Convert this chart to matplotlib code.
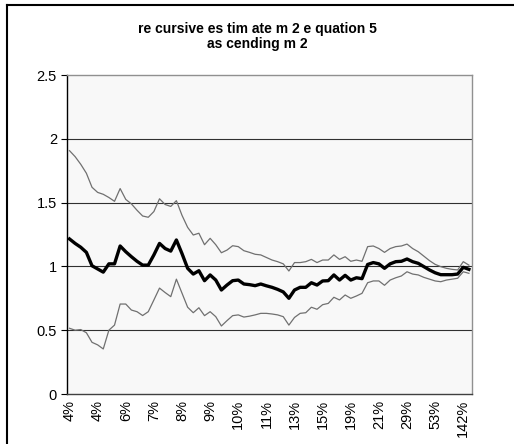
import numpy as np
import matplotlib
matplotlib.use("Agg")
import matplotlib.pyplot as plt
from matplotlib.lines import Line2D

plt.rcParams['font.family'] = ['Liberation Sans', 'DejaVu Sans']

# recursive estimate of m2, sorted by ascending m2 (72 windows)
estimate = [1.215, 1.18, 1.15, 1.11, 1.005, 0.98, 0.955, 1.02, 1.02, 1.16,
            1.115, 1.076, 1.04, 1.01, 1.01, 1.09, 1.18, 1.14, 1.12, 1.207,
            1.10, 0.985, 0.94, 0.966, 0.888, 0.933, 0.893, 0.815, 0.854, 0.888,
            0.893, 0.862, 0.857, 0.849, 0.862, 0.848, 0.836, 0.82, 0.80, 0.75,
            0.815, 0.836, 0.836, 0.872, 0.854, 0.886, 0.888, 0.933, 0.893, 0.93,
            0.893, 0.911, 0.904, 1.015, 1.03, 1.02, 0.985, 1.02, 1.037, 1.04,
            1.058, 1.037, 1.024, 0.998, 0.972, 0.95, 0.935, 0.935, 0.935, 0.94,
            0.993, 0.977]

upper = [1.907, 1.86, 1.80, 1.73, 1.62, 1.58, 1.565, 1.54, 1.51, 1.61,
         1.525, 1.49, 1.44, 1.395, 1.385, 1.43, 1.53, 1.485, 1.47, 1.515,
         1.40, 1.306, 1.246, 1.26, 1.17, 1.22, 1.17, 1.107, 1.128, 1.162,
         1.155, 1.123, 1.11, 1.095, 1.09, 1.07, 1.05, 1.037, 1.02, 0.964,
         1.03, 1.03, 1.037, 1.055, 1.03, 1.05, 1.05, 1.09, 1.055, 1.076,
         1.04, 1.05, 1.04, 1.155, 1.16, 1.14, 1.11, 1.14, 1.155, 1.16,
         1.175, 1.14, 1.115, 1.08, 1.045, 1.016, 0.998, 0.985, 0.977, 0.972,
         1.037, 1.01]

lower = [0.515, 0.50, 0.505, 0.48, 0.405, 0.385, 0.353, 0.50, 0.54, 0.705,
         0.705, 0.658, 0.645, 0.615, 0.645, 0.737, 0.83, 0.795, 0.763, 0.90,
         0.79, 0.68, 0.637, 0.676, 0.614, 0.645, 0.606, 0.533, 0.575, 0.614,
         0.62, 0.603, 0.61, 0.62, 0.632, 0.632, 0.627, 0.62, 0.606, 0.54,
         0.60, 0.632, 0.637, 0.68, 0.664, 0.70, 0.71, 0.758, 0.737, 0.776,
         0.75, 0.768, 0.789, 0.872, 0.886, 0.886, 0.852, 0.893, 0.911, 0.925,
         0.958, 0.94, 0.933, 0.914, 0.90, 0.886, 0.88, 0.893, 0.90, 0.907,
         0.958, 0.946]

# category labels shown every 5th point
tick_labels = ['4%', '4%', '6%', '7%', '8%', '9%', '10%', '11%', '13%', '15%',
               '19%', '21%', '29%', '53%', '142%']
label_step = 5

title = 're cursive es tim ate m 2 e quation 5\nas cending m 2'

x = np.arange(len(estimate))

fig = plt.figure(figsize=(5.14, 4.44), dpi=100)
ax = fig.add_axes([66.7 / 514, 50 / 444, 405 / 514, 319 / 444])
ax.set_facecolor('#f8f8f8')

for g in [0.5, 1.0, 1.5, 2.0]:
    ax.axhline(g, color='#303030', lw=0.8, zorder=1)

ax.plot(x, upper, color='#707070', lw=0.9, zorder=2)
ax.plot(x, lower, color='#707070', lw=0.9, zorder=2)
ax.plot(x, estimate, color='black', lw=2.4, zorder=3)

ax.set_xlim(-0.5, len(estimate) - 0.5)
ax.set_ylim(0, 2.5)
ax.set_yticks([0, 0.5, 1, 1.5, 2, 2.5])
ax.set_yticklabels(['0', '0.5', '1', '1.5', '2', '2.5'])
ax.set_xticks(x[::label_step])
ax.set_xticklabels(tick_labels, rotation=90)
ax.tick_params(axis='y', length=4, width=0.8, labelsize=10.5, pad=3)
ax.tick_params(axis='x', length=0, labelsize=10.5, pad=4)

ax.spines['left'].set_color('black')
ax.spines['bottom'].set_color('#404040')
ax.spines['top'].set_color('#909090')
ax.spines['right'].set_color('#909090')
for s in ax.spines.values():
    s.set_linewidth(1.0)

fig.text(0.5, 1 - 36.5 / 444, title, ha='center', va='center',
         fontsize=10, fontweight='bold', linespacing=1.15)

# chart object border
fig.add_artist(Line2D([7 / 514, 7 / 514], [-0.1, 1 - 5 / 444],
                      transform=fig.transFigure, color='black', lw=1.5))
fig.add_artist(Line2D([7 / 514, 1.1], [1 - 5 / 444, 1 - 5 / 444],
                      transform=fig.transFigure, color='black', lw=1.5))

fig.savefig('out.png', dpi=100)
